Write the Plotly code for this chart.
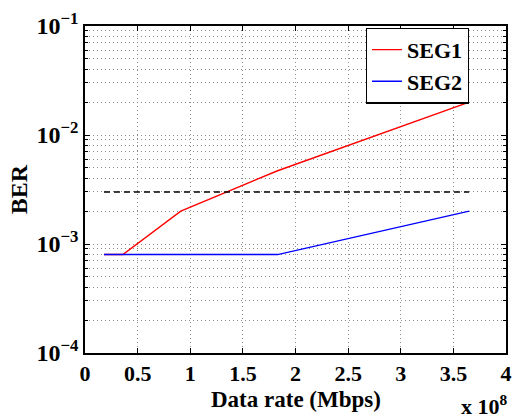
import plotly.graph_objects as go

# Data
rate_seg1 = [1.8e7, 3.6e7, 9.1e7, 1.83e8, 3.65e8]
ber_seg1 = [8e-4, 8e-4, 2e-3, 4.7e-3, 2.0e-2]
rate_seg2 = [1.8e7, 3.6e7, 9.1e7, 1.83e8, 3.65e8]
ber_seg2 = [8e-4, 8e-4, 8e-4, 8e-4, 2.0e-3]
rate_thr = [1.8e7, 3.65e8]
ber_thr = [3e-3, 3e-3]

x_tickvals = [0, 0.5e8, 1e8, 1.5e8, 2e8, 2.5e8, 3e8, 3.5e8, 4e8]
x_ticktext = ["0", "0.5", "1", "1.5", "2", "2.5", "3", "3.5", "4"]
y_tickvals = [1e-4, 1e-3, 1e-2, 1e-1]
y_ticktext = ["10<sup>\u22124</sup>", "10<sup>\u22123</sup>", "10<sup>\u22122</sup>", "10<sup>\u22121</sup>"]

FONT = "Liberation Serif"
GRID = "#8c8c8c"
GRIDDASH = "1px,3px"

fig = go.Figure()
fig.add_trace(go.Scatter(x=rate_seg1, y=ber_seg1, mode="lines", name="SEG1",
                         line=dict(color="#ff0000", width=1.4)))
fig.add_trace(go.Scatter(x=rate_seg2, y=ber_seg2, mode="lines", name="SEG2",
                         line=dict(color="#0000ff", width=1.4)))
fig.add_trace(go.Scatter(x=rate_thr, y=ber_thr, mode="lines", showlegend=False,
                         line=dict(color="black", width=1.4, dash="6px,4px")))

fig.update_layout(
    width=521, height=418,
    margin=dict(l=85, r=9, t=19, b=65),
    paper_bgcolor="white", plot_bgcolor="white",
    font=dict(family=FONT, size=23, color="black"),
    legend=dict(x=0.667, y=0.995, xanchor="left", yanchor="top",
                bordercolor="black", borderwidth=1.2, bgcolor="white",
                font=dict(family=FONT, size=22, color="black", weight="bold"),
                itemwidth=30, tracegroupgap=0),
    annotations=[
        dict(text="<b>x 10<sup>8</sup></b>", xref="paper", yref="paper",
             x=1.01, y=-0.16, xanchor="right", yanchor="middle",
             showarrow=False, font=dict(family=FONT, size=22, color="black")),
        dict(text="<b>Data rate (Mbps)</b>", xref="paper", yref="paper",
             x=0.5, y=-0.142, xanchor="center", yanchor="middle",
             showarrow=False, font=dict(family=FONT, size=23, color="black")),
    ],
)

fig.update_xaxes(
    range=[0, 4e8], tickvals=x_tickvals, ticktext=x_ticktext,
    tickfont=dict(family=FONT, size=22, weight="bold"),
    showline=True, linecolor="black", linewidth=1.6, mirror="allticks",
    ticks="inside", ticklen=5, tickcolor="black",
    showgrid=True, gridcolor=GRID, griddash=GRIDDASH, gridwidth=1,
    zeroline=False,
)
fig.update_yaxes(
    type="log", range=[-4, -1], tickvals=y_tickvals, ticktext=y_ticktext,
    tickfont=dict(family=FONT, size=24, weight="bold"),
    title=dict(text="<b>BER</b>", font=dict(family=FONT, size=24), standoff=2),
    showline=True, linecolor="black", linewidth=1.6, mirror="allticks",
    ticks="inside", ticklen=5, tickcolor="black",
    showgrid=True, gridcolor=GRID, griddash=GRIDDASH, gridwidth=1,
    minor=dict(dtick="D1", showgrid=True, gridcolor=GRID, griddash=GRIDDASH,
               ticks="inside", ticklen=3, tickcolor="black"),
    zeroline=False,
)

fig.write_html("out.html")
